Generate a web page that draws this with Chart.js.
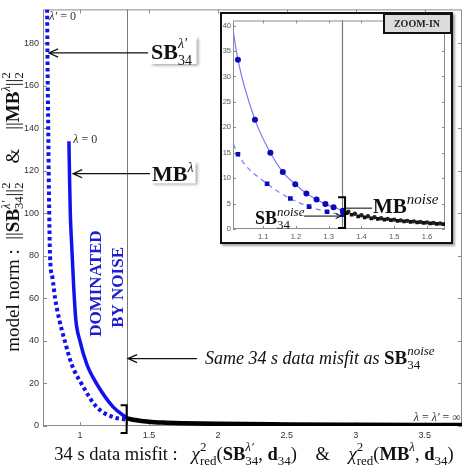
<!DOCTYPE html>
<html>
<head>
<meta charset="utf-8">
<script src="https://cdn.jsdelivr.net/npm/chart.js@4.4.0/dist/chart.umd.min.js"></script>
<style>
  html, body { margin: 0; padding: 0; background: #fff; }
  #wrap { position: relative; width: 473px; height: 466px; }
  #main { position: absolute; left: 0; top: 0; }
  #insetBox { position: absolute; left: 220px; top: 12px; width: 233px; height: 232px; box-sizing: border-box;
              border: 2px solid #111; background: #fff; box-shadow: 2px 2px 2px rgba(0,0,0,0.35); }
  #inset { position: absolute; left: 0; top: 0; }
</style>
</head>
<body>
<div id="wrap">
  <canvas id="main" width="473" height="466"></canvas>
  <div id="insetBox"><canvas id="inset" width="229" height="228"></canvas></div>
</div>
<script>
// --- valeurs ---
// courbes L completes (figure principale)
const sbMisfit = [0.762, 0.765, 0.77, 0.775, 0.783, 0.80, 0.82, 0.85, 0.89, 0.94, 1.01, 1.12, 1.24, 1.342];
const sbNorm   = [196, 170, 140, 110, 80, 70, 60, 50, 40, 29, 20, 9, 4.2, 3.0];
const mbMisfit = [0.92, 0.925, 0.93, 0.94, 0.955, 0.97, 1.0, 1.05, 1.12, 1.24, 1.342];
const mbNorm   = [134, 115, 100, 85, 65, 50, 40, 29, 20, 9, 3.7];
const tailMisfit = [1.342, 1.4, 1.5, 1.6, 1.75, 2.0, 2.5, 3.0, 3.5, 3.77];
const tailNorm   = [3.6, 2.8, 2.0, 1.6, 1.3, 1.0, 0.75, 0.6, 0.5, 0.45];

// zoom (encart)
const zoomMbMisfit = [0.995, 1.023, 1.075, 1.122, 1.16, 1.198, 1.232, 1.263, 1.29, 1.315, 1.343];
const zoomMbNorm   = [45, 33.3, 21.5, 15.0, 11.2, 8.8, 7.0, 5.8, 4.9, 4.3, 3.6];
const zoomSbMisfit = [0.99, 1.023, 1.112, 1.183, 1.24, 1.295, 1.343];
const zoomSbNorm   = [20, 14.7, 8.9, 6.0, 4.4, 3.4, 2.8];
const zoomTailMbMisfit = [1.36, 1.38, 1.40, 1.42, 1.44, 1.46, 1.48, 1.50, 1.52, 1.54, 1.56, 1.58, 1.60, 1.62, 1.64];
const zoomTailMbNorm   = [3.4, 3.0, 2.7, 2.5, 2.3, 2.1, 2.0, 1.85, 1.7, 1.6, 1.5, 1.4, 1.3, 1.2, 1.1];
const zoomTailSbMisfit = [1.355, 1.37, 1.39, 1.41, 1.43, 1.45, 1.47, 1.49, 1.51, 1.53, 1.55, 1.57, 1.59, 1.61, 1.63, 1.65];
const zoomTailSbNorm   = [3.1, 2.8, 2.5, 2.3, 2.1, 2.0, 1.85, 1.75, 1.6, 1.5, 1.4, 1.3, 1.2, 1.1, 1.0, 0.95];

const noiseMisfit = 1.342; // misfit de SB34 noise

// ticks
const xTicks = [1, 1.5, 2, 2.5, 3, 3.5];
const yTicks = [0, 20, 40, 60, 80, 100, 120, 140, 160, 180];
const zoomXTicks = [1.1, 1.2, 1.3, 1.4, 1.5, 1.6];
const zoomYTicks = [0, 5, 10, 15, 20, 25, 30, 35, 40];

const pts = (xs, ys) => xs.map((v, i) => ({ x: v, y: ys[i] }));

const SERIF = '"Liberation Serif", "Times New Roman", serif';
const SANS = '"Liberation Sans", Arial, sans-serif';
const fnt = (size, style) => (style ? style + ' ' : '') + size + 'px ' + SERIF;
const BLUE = '#1212ee';

// texte avec exposants / indices
function partWidth(ctx, p) {
    if (Array.isArray(p)) { ctx.font = p[1]; return ctx.measureText(p[0]).width; }
    ctx.font = p.up[1]; const a = ctx.measureText(p.up[0]).width;
    ctx.font = p.down[1]; const b = ctx.measureText(p.down[0]).width;
    return Math.max(a, b);
}
function drawRich(ctx, x, y, parts, align) {
    const w = parts.reduce((s, p) => s + partWidth(ctx, p), 0);
    let cx = align === 'center' ? x - w / 2 : align === 'right' ? x - w : x;
    ctx.textAlign = 'left';
    ctx.textBaseline = 'alphabetic';
    parts.forEach(p => {
        const segs = Array.isArray(p) ? [p] : [p.up, p.down];
        segs.forEach(s => { ctx.font = s[1]; ctx.fillText(s[0], cx, y + (s[2] || 0)); });
        cx += partWidth(ctx, p);
    });
    return w;
}
function arrow(ctx, tx, ty, hx, hy, size) {
    const ang = Math.atan2(hy - ty, hx - tx);
    ctx.beginPath();
    ctx.moveTo(tx, ty); ctx.lineTo(hx, hy);
    ctx.moveTo(hx - size * Math.cos(ang - 0.42), hy - size * Math.sin(ang - 0.42));
    ctx.lineTo(hx, hy);
    ctx.lineTo(hx - size * Math.cos(ang + 0.42), hy - size * Math.sin(ang + 0.42));
    ctx.stroke();
}
function bracket(ctx, x, y1, y2, arm) {
    ctx.beginPath();
    ctx.moveTo(x - arm, y1); ctx.lineTo(x, y1); ctx.lineTo(x, y2); ctx.lineTo(x - arm, y2);
    ctx.stroke();
}

// cadre + ticks vers l'interieur (style matlab)
const boxFrame = {
    id: 'boxFrame',
    beforeDatasetsDraw(chart, args, o) {
        const { ctx, chartArea: a, scales: { x, y } } = chart;
        ctx.save();
        ctx.strokeStyle = o.color;
        ctx.lineWidth = 1;
        ctx.strokeRect(a.left + 0.5, a.top + 0.5, a.right - a.left - 1, a.bottom - a.top - 1);
        ctx.beginPath();
        x.ticks.forEach(t => {
            const px = Math.round(x.getPixelForValue(t.value)) + 0.5;
            ctx.moveTo(px, a.bottom); ctx.lineTo(px, a.bottom - o.len);
            ctx.moveTo(px, a.top); ctx.lineTo(px, a.top + o.len);
        });
        y.ticks.forEach(t => {
            const py = Math.round(y.getPixelForValue(t.value)) + 0.5;
            ctx.moveTo(a.left, py); ctx.lineTo(a.left + o.len, py);
            ctx.moveTo(a.right, py); ctx.lineTo(a.right - o.len, py);
        });
        ctx.stroke();
        // ligne verticale du misfit noise
        const nx = Math.round(x.getPixelForValue(noiseMisfit)) + 0.5;
        ctx.strokeStyle = '#7a7a7a';
        ctx.lineWidth = o.noiseWidth;
        ctx.beginPath(); ctx.moveTo(nx, a.top); ctx.lineTo(nx, a.bottom); ctx.stroke();
        ctx.restore();
    }
};

const mainNotes = {
    id: 'mainNotes',
    afterDraw(chart) {
        const { ctx, scales: { x, y } } = chart;
        const X = v => x.getPixelForValue(v), Y = v => y.getPixelForValue(v);
        ctx.save();

        // lambda = 0
        ctx.fillStyle = '#333';
        drawRich(ctx, X(0.778), Y(190.9), [['λ′', fnt(12, 'italic')], [' = 0', fnt(12)]]);
        drawRich(ctx, X(0.952), Y(133), [['λ', fnt(12, 'italic')], [' = 0', fnt(12)]]);
        drawRich(ctx, X(3.762), Y(2.3), [['λ', fnt(12, 'italic')], [' = ', fnt(12)], ['λ′', fnt(12, 'italic')], [' = ∞', fnt(12)]], 'right');

        // fleches
        ctx.strokeStyle = '#111';
        ctx.lineWidth = 1.3;
        arrow(ctx, X(1.494), Y(175.5), X(0.775), Y(175.5), 10);
        arrow(ctx, X(1.508), Y(118.7), X(0.95), Y(118.7), 10);
        arrow(ctx, X(1.848), Y(31.7), X(1.348), Y(31.7), 10);

        // etiquettes avec ombre
        const labelBox = (x0, y0, w, h) => {
            ctx.save();
            ctx.shadowColor = 'rgba(0,0,0,0.35)'; ctx.shadowBlur = 3; ctx.shadowOffsetX = 2; ctx.shadowOffsetY = 2;
            ctx.fillStyle = '#fff'; ctx.fillRect(x0, y0, w, h);
            ctx.restore();
        };
        labelBox(X(1.505), Y(183.5), 47, 28);
        labelBox(X(1.512), Y(124.5), 45, 22);
        ctx.fillStyle = '#111';
        drawRich(ctx, X(1.515), Y(172.7), [['SB', fnt(22, 'bold')], { up: ['λ′', fnt(14, 'italic'), -11], down: ['34', fnt(14), 6] }]);
        drawRich(ctx, X(1.522), Y(115.5), [['MB', fnt(22, 'bold')], ['λ', fnt(14, 'italic'), -9]]);

        drawRich(ctx, X(1.906), Y(29.3), [['Same 34 s data misfit as ', fnt(18, 'italic')], ['SB', fnt(19, 'bold')],
            { up: ['noise', fnt(13, 'italic'), -9], down: ['34', fnt(13), 5] }]);

        // crochet
        ctx.lineWidth = 2;
        ctx.strokeStyle = '#000';
        bracket(ctx, X(noiseMisfit) - 0.5, Y(9.8), Y(-3.3), 6);

        // DOMINATED BY NOISE
        ctx.fillStyle = '#1c1cd2';
        ctx.font = fnt(17, 'bold');
        ctx.textAlign = 'center';
        ctx.textBaseline = 'alphabetic';
        ctx.save(); ctx.translate(X(1.154), Y(67)); ctx.rotate(-Math.PI / 2); ctx.fillText('DOMINATED', 0, 0); ctx.restore();
        ctx.save(); ctx.translate(X(1.313), Y(65.2)); ctx.rotate(-Math.PI / 2); ctx.fillText('BY NOISE', 0, 0); ctx.restore();

        // titres des axes
        ctx.fillStyle = '#111';
        const chi = [['χ', fnt(19, 'italic')], { up: ['2', fnt(13), -9], down: ['red', fnt(13), 5] }];
        drawRich(ctx, 254, 460, [['34 s data misfit :   ', fnt(18.5)], ...chi,
            ['(', fnt(18.5)], ['SB', fnt(18.5, 'bold')], { up: ['λ′', fnt(13, 'italic'), -9], down: ['34', fnt(13), 5] },
            [', ', fnt(18.5)], ['d', fnt(18.5, 'bold')], ['34', fnt(13), 5], [')', fnt(18.5)], ['    &    ', fnt(18.5)], ...chi,
            ['(', fnt(18.5)], ['MB', fnt(18.5, 'bold')], ['λ', fnt(13, 'italic'), -9], [', ', fnt(18.5)],
            ['d', fnt(18.5, 'bold')], ['34', fnt(13), 5], [')', fnt(18.5)]], 'center');

        ctx.save();
        ctx.translate(19, 212);
        ctx.rotate(-Math.PI / 2);
        const sq = { up: ['2', fnt(12.5), -9], down: ['2', fnt(12.5), 4] };
        drawRich(ctx, 0, 0, [['model norm :  ', fnt(19)], ['||', fnt(19)], ['SB', fnt(19, 'bold')],
            { up: ['λ′', fnt(12.5, 'italic'), -9], down: ['34', fnt(12.5), 4] }, ['||', fnt(19)], sq,
            ['    &    ', fnt(19)], ['||', fnt(19)], ['MB', fnt(19, 'bold')], ['λ', fnt(12.5, 'italic'), -9],
            ['||', fnt(19)], sq], 'center');
        ctx.restore();

        ctx.restore();
    }
};

const insetNotes = {
    id: 'insetNotes',
    afterDraw(chart) {
        const { ctx, scales: { x, y } } = chart;
        const X = v => x.getPixelForValue(v), Y = v => y.getPixelForValue(v);
        ctx.save();
        ctx.strokeStyle = '#000';
        ctx.lineWidth = 2;
        bracket(ctx, X(1.350), Y(6.25), Y(0.2), 7);

        ctx.lineWidth = 1;
        ctx.beginPath(); ctx.moveTo(X(1.35), Y(4.1)); ctx.lineTo(X(1.432), Y(4.1)); ctx.stroke();
        arrow(ctx, X(1.225), Y(2.54), X(1.338), Y(2.54), 6);

        ctx.fillStyle = '#111';
        drawRich(ctx, X(1.435), Y(3.12), [['MB', fnt(21, 'bold')], ['noise', fnt(15, 'italic'), -9]]);
        drawRich(ctx, X(1.075), Y(0.98), [['SB', fnt(18, 'bold')], { up: ['noise', fnt(13, 'italic'), -8], down: ['34', fnt(13), 5] }]);

        // boite ZOOM-IN
        ctx.fillStyle = '#dcdcdc';
        ctx.fillRect(161, 0, 68, 19);
        ctx.lineWidth = 2;
        ctx.strokeStyle = '#111';
        ctx.strokeRect(162, 0, 67, 19);
        ctx.fillStyle = '#222';
        ctx.font = fnt(10, 'bold');
        ctx.textAlign = 'center';
        ctx.textBaseline = 'middle';
        ctx.fillText('ZOOM-IN', 195, 10.5);
        ctx.restore();
    }
};

window.onload = function () {
    // figure principale
    new Chart(document.getElementById('main').getContext('2d'), {
        type: 'scatter',
        data: {
            datasets: [{
                data: pts(tailMisfit, tailNorm),
                showLine: true, borderColor: '#000', borderWidth: 4.5, pointRadius: 0,
                cubicInterpolationMode: 'monotone'
            }, {
                data: pts(mbMisfit, mbNorm),
                showLine: true, borderColor: BLUE, borderWidth: 3.5, pointRadius: 0,
                cubicInterpolationMode: 'monotone'
            }, {
                data: pts(sbMisfit, sbNorm),
                showLine: true, borderColor: BLUE, borderWidth: 4, borderDash: [3.5, 3], borderCapStyle: 'butt',
                pointRadius: 0, cubicInterpolationMode: 'monotone'
            }]
        },
        options: {
            responsive: false,
            animation: false,
            devicePixelRatio: 1,
            layout: { padding: { top: 5, right: 11, left: 0, bottom: 0 } },
            plugins: { legend: { display: false }, tooltip: { enabled: false },
                       boxFrame: { color: '#8c8c8c', len: 4, noiseWidth: 1 } },
            scales: {
                x: {
                    type: 'linear', min: 0.732, max: 3.77,
                    afterBuildTicks: s => { s.ticks = xTicks.map(v => ({ value: v })); },
                    afterFit: s => { s.height = 40; },
                    grid: { display: false, drawTicks: false }, border: { display: false },
                    ticks: { font: { family: SANS, size: 9 }, color: '#333', padding: 4, maxRotation: 0,
                             callback: v => String(v) }
                },
                y: {
                    min: 0, max: 196,
                    afterBuildTicks: s => { s.ticks = yTicks.map(v => ({ value: v })); },
                    afterFit: s => { s.width = 43; },
                    grid: { display: false, drawTicks: false }, border: { display: false },
                    ticks: { font: { family: SANS, size: 9 }, color: '#333', padding: 4 }
                }
            }
        },
        plugins: [boxFrame, mainNotes]
    });

    // encart zoom
    new Chart(document.getElementById('inset').getContext('2d'), {
        type: 'scatter',
        data: {
            datasets: [{
                data: pts(zoomTailSbMisfit, zoomTailSbNorm),
                pointStyle: 'rect', pointRadius: 2.6, pointBackgroundColor: '#111', pointBorderColor: '#111', pointBorderWidth: 0
            }, {
                data: pts(zoomTailMbMisfit, zoomTailMbNorm),
                pointStyle: 'circle', pointRadius: 2.2, pointBackgroundColor: '#222', pointBorderColor: '#222', pointBorderWidth: 0
            }, {
                data: pts(zoomSbMisfit, zoomSbNorm),
                showLine: true, borderColor: '#7b7bf2', borderWidth: 1.2, borderDash: [5, 4],
                cubicInterpolationMode: 'monotone',
                pointStyle: 'rect', pointRadius: 3.3, pointBackgroundColor: '#0a0ab8', pointBorderColor: '#0a0ab8', pointBorderWidth: 0
            }, {
                data: pts(zoomMbMisfit, zoomMbNorm),
                showLine: true, borderColor: '#7b7bf2', borderWidth: 1.2,
                cubicInterpolationMode: 'monotone',
                pointStyle: 'circle', pointRadius: 3, pointBackgroundColor: '#0a0ab8', pointBorderColor: '#0a0ab8', pointBorderWidth: 0
            }]
        },
        options: {
            responsive: false,
            animation: false,
            devicePixelRatio: 1,
            layout: { padding: { top: 5, right: 6, left: 0, bottom: 0 } },
            plugins: { legend: { display: false }, tooltip: { enabled: false },
                       boxFrame: { color: '#8c8c8c', len: 3, noiseWidth: 1.2 } },
            scales: {
                x: {
                    type: 'linear', min: 1.008, max: 1.655,
                    afterBuildTicks: s => { s.ticks = zoomXTicks.map(v => ({ value: v })); },
                    afterFit: s => { s.height = 13; },
                    grid: { display: false, drawTicks: false }, border: { display: false },
                    ticks: { font: { family: SANS, size: 7.5 }, color: '#555', padding: 3, maxRotation: 0,
                             callback: v => String(v) }
                },
                y: {
                    min: 0, max: 41,
                    afterBuildTicks: s => { s.ticks = zoomYTicks.map(v => ({ value: v })); },
                    afterFit: s => { s.width = 11; },
                    grid: { display: false, drawTicks: false }, border: { display: false },
                    ticks: { font: { family: SANS, size: 7.5 }, color: '#555', padding: 2 }
                }
            }
        },
        plugins: [boxFrame, insetNotes]
    });
};
</script>
</body>
</html>
